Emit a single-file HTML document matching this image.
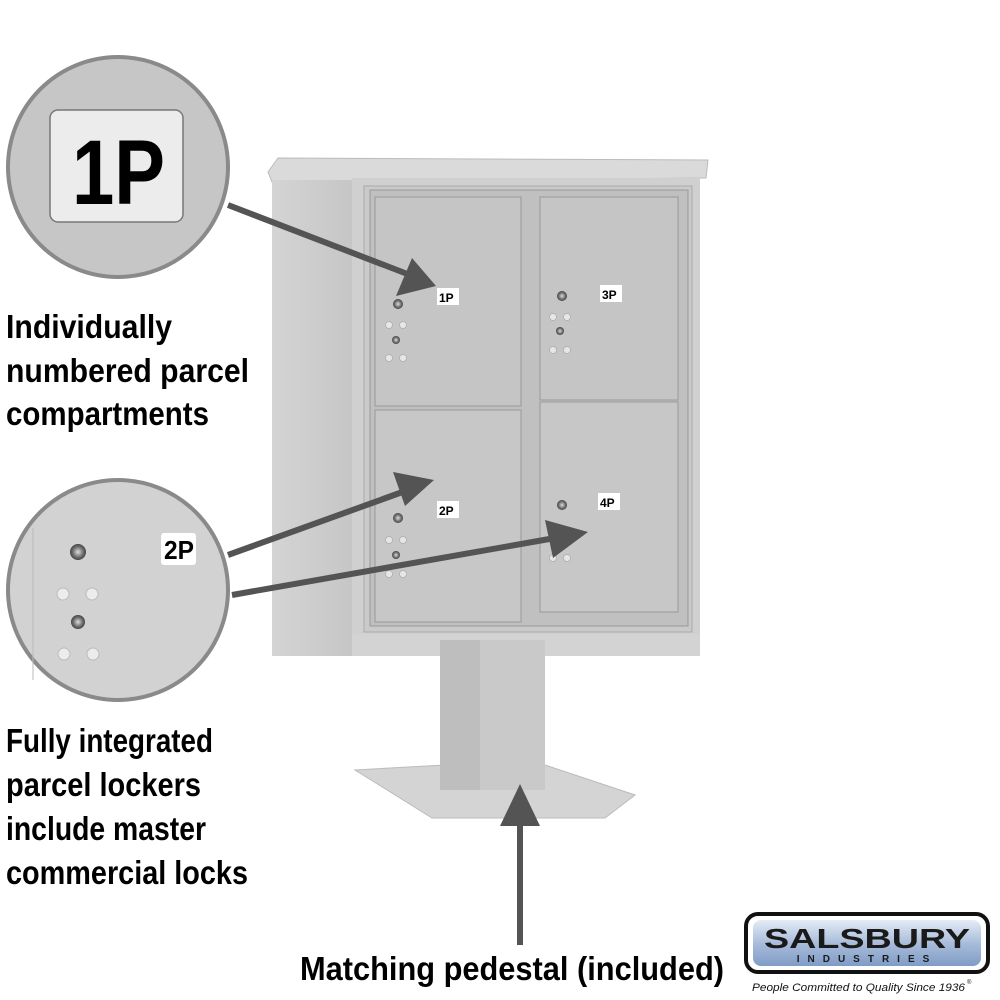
<!DOCTYPE html>
<html><head><meta charset="utf-8"><style>
html,body{margin:0;padding:0;background:#fff;}
svg{display:block}
.t{font-family:"Liberation Sans",sans-serif;font-weight:bold;fill:#000;}
</style></head><body>
<svg width="1000" height="1000" viewBox="0 0 1000 1000" xmlns="http://www.w3.org/2000/svg">
<defs>
<linearGradient id="blue" x1="0" y1="0" x2="0" y2="1">
<stop offset="0" stop-color="#e4ecf6"/><stop offset="0.5" stop-color="#a9bddb"/><stop offset="1" stop-color="#7f9cc6"/>
</linearGradient>
<linearGradient id="side" x1="0" y1="0" x2="1" y2="0">
<stop offset="0" stop-color="#d3d4d3"/><stop offset="1" stop-color="#c5c6c5"/>
</linearGradient>
<radialGradient id="lock"><stop offset="0" stop-color="#ddd"/><stop offset="0.6" stop-color="#777"/><stop offset="1" stop-color="#444"/></radialGradient>
</defs>

<polygon points="268,172 278,158 708,160 706,178 272,182" fill="#d9dad9" stroke="#bbb" stroke-width="1"/>
<rect x="272" y="180" width="82" height="476" fill="url(#side)"/>
<rect x="352" y="178" width="348" height="464" fill="#cfd0cf"/>
<rect x="364" y="186" width="328" height="446" fill="#c9cac9" stroke="#aaa" stroke-width="1"/>
<rect x="370" y="190" width="318" height="436" fill="#bfc0bf" stroke="#999" stroke-width="1"/>
<rect x="375" y="197" width="146" height="209" fill="#c4c5c4" stroke="#999"/>
<rect x="540" y="197" width="138" height="203" fill="#c4c5c4" stroke="#999"/>
<rect x="375" y="410" width="146" height="212" fill="#c6c7c6" stroke="#999"/>
<rect x="540" y="402" width="138" height="210" fill="#c6c7c6" stroke="#999"/>
<rect x="352" y="634" width="348" height="22" fill="#d2d3d2"/>
<polygon points="355,770 445,765 545,765 635,795 605,818 432,818" fill="#d3d4d3" stroke="#bbb"/>
<rect x="440" y="640" width="105" height="150" fill="#c8c9c8"/>
<rect x="440" y="640" width="40" height="150" fill="#bdbebd"/>

<g fill="#e6e6e6" stroke="#aaa" stroke-width="0.7">
<circle cx="389" cy="325" r="3.5"/><circle cx="403" cy="325" r="3.5"/><circle cx="389" cy="358" r="3.5"/><circle cx="403" cy="358" r="3.5"/>
<circle cx="553" cy="317" r="3.5"/><circle cx="567" cy="317" r="3.5"/><circle cx="553" cy="350" r="3.5"/><circle cx="567" cy="350" r="3.5"/>
<circle cx="389" cy="540" r="3.5"/><circle cx="403" cy="540" r="3.5"/><circle cx="389" cy="574" r="3.5"/><circle cx="403" cy="574" r="3.5"/>
<circle cx="553" cy="558" r="3.5"/><circle cx="567" cy="558" r="3.5"/>
</g>
<g fill="url(#lock)">
<circle cx="398" cy="304" r="5"/><circle cx="396" cy="340" r="4"/>
<circle cx="562" cy="296" r="5"/><circle cx="560" cy="331" r="4"/>
<circle cx="398" cy="518" r="5"/><circle cx="396" cy="555" r="4"/>
<circle cx="562" cy="505" r="5"/>
</g>
<g font-family="Liberation Sans,sans-serif" font-weight="bold" font-size="12">
<rect x="437" y="288" width="22" height="17" fill="#fff"/><text x="439" y="302">1P</text>
<rect x="600" y="285" width="22" height="17" fill="#fff"/><text x="602" y="299">3P</text>
<rect x="437" y="501" width="22" height="17" fill="#fff"/><text x="439" y="515">2P</text>
<rect x="598" y="493" width="22" height="17" fill="#fff"/><text x="600" y="507">4P</text>
</g>

<circle cx="118" cy="167" r="110" fill="#c6c6c6" stroke="#8a8a8a" stroke-width="4"/>
<rect x="50" y="110" width="133" height="112" rx="8" fill="#ececec" stroke="#777" stroke-width="1.5"/>
<text x="72" y="204" font-family="Liberation Sans,sans-serif" font-weight="bold" font-size="92" fill="#000" textLength="93" lengthAdjust="spacingAndGlyphs">1P</text>

<circle cx="118" cy="590" r="110" fill="#d2d2d2" stroke="#8a8a8a" stroke-width="4"/>
<line x1="33" y1="528" x2="33" y2="680" stroke="#bbb" stroke-width="1"/>
<rect x="161" y="533" width="35" height="32" rx="3" fill="#fff"/>
<text x="164" y="559" font-family="Liberation Sans,sans-serif" font-weight="bold" font-size="26" textLength="30" lengthAdjust="spacingAndGlyphs">2P</text>
<g fill="#ececec" stroke="#bbb"><circle cx="63" cy="594" r="6"/><circle cx="92" cy="594" r="6"/><circle cx="64" cy="654" r="6"/><circle cx="93" cy="654" r="6"/></g>
<circle cx="78" cy="552" r="8" fill="url(#lock)"/><circle cx="78" cy="622" r="7" fill="url(#lock)"/>

<g stroke="#545454" stroke-width="6" fill="#545454">
<line x1="228" y1="205" x2="410" y2="275"/>
<line x1="228" y1="555" x2="408" y2="490"/>
<line x1="232" y1="595" x2="555" y2="538"/>
<line x1="520" y1="945" x2="520" y2="820"/>
</g>
<g fill="#545454">
<polygon points="436,286 396,296 412,258"/>
<polygon points="434,480 405,506 393,472"/>
<polygon points="588,532 553,558 545,520"/>
<polygon points="520,784 540,826 500,826"/>
</g>

<g class="t" font-size="33" lengthAdjust="spacingAndGlyphs">
<text x="6" y="338" textLength="166" lengthAdjust="spacingAndGlyphs">Individually</text>
<text x="6" y="382" textLength="243" lengthAdjust="spacingAndGlyphs">numbered parcel</text>
<text x="6" y="425" textLength="203" lengthAdjust="spacingAndGlyphs">compartments</text>
<text x="6" y="752" textLength="207" lengthAdjust="spacingAndGlyphs">Fully integrated</text>
<text x="6" y="796" textLength="195" lengthAdjust="spacingAndGlyphs">parcel lockers</text>
<text x="6" y="840" textLength="200" lengthAdjust="spacingAndGlyphs">include master</text>
<text x="6" y="884" textLength="242" lengthAdjust="spacingAndGlyphs">commercial locks</text>
<text x="300" y="980" textLength="424" lengthAdjust="spacingAndGlyphs">Matching pedestal (included)</text>
</g>

<rect x="746" y="914" width="242" height="58" rx="12" fill="#fff" stroke="#111" stroke-width="4"/>
<rect x="753" y="920" width="228" height="46" rx="8" fill="url(#blue)"/>
<text x="867" y="948" text-anchor="middle" font-family="Liberation Sans,sans-serif" font-weight="bold" font-size="28" fill="#1a1a1a" textLength="206" lengthAdjust="spacingAndGlyphs">SALSBURY</text>
<text x="867" y="962" text-anchor="middle" font-family="Liberation Sans,sans-serif" font-weight="bold" font-size="10" fill="#1a1a1a" letter-spacing="8">INDUSTRIES</text>
<text x="752" y="991" font-family="Liberation Sans,sans-serif" font-style="italic" font-size="11" fill="#111" textLength="213" lengthAdjust="spacingAndGlyphs">People Committed to Quality Since 1936</text>
<text x="967" y="984" font-family="Liberation Sans,sans-serif" font-size="6" fill="#111">®</text>
</svg>
</body></html>
